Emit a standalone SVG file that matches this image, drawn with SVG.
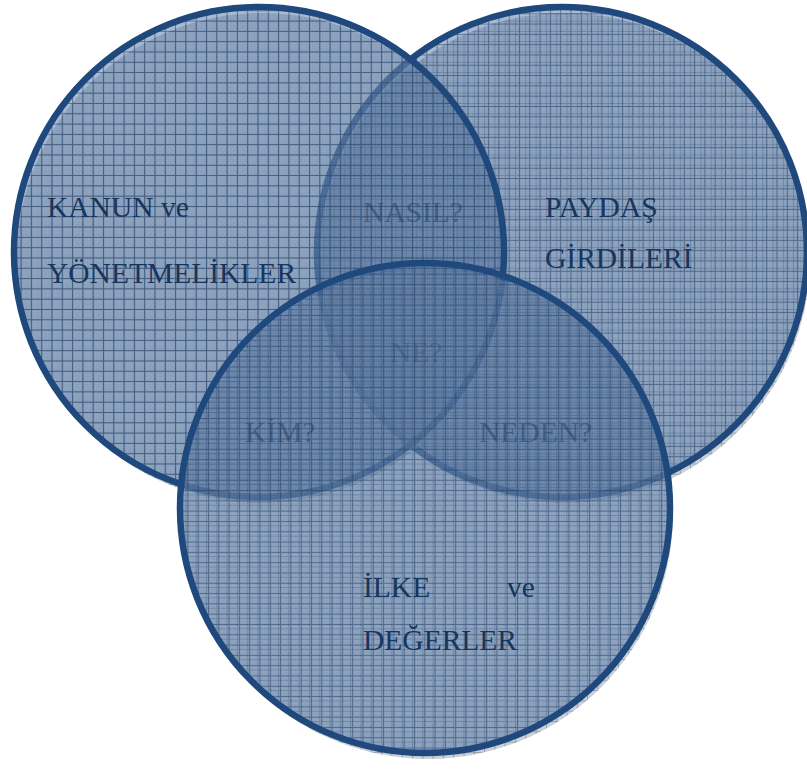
<svg xmlns="http://www.w3.org/2000/svg" width="807" height="770" viewBox="0 0 807 770">
  <defs>
    <pattern id="chk" width="2" height="2" patternUnits="userSpaceOnUse">
      <rect width="1" height="1" fill="#ffffff" opacity="0.22"/>
    </pattern>
    <pattern id="grid" width="10.3" height="10.3" patternUnits="userSpaceOnUse">
      <rect width="10.3" height="10.3" fill="#2b5690" opacity="0.44"/>
      <rect width="10.3" height="10.3" fill="url(#chk)"/>
      <path d="M0 0.5H10.3M0.5 0V10.3" stroke="#1c3a68" stroke-width="1" opacity="0.55"/>
    </pattern>
    <pattern id="grid2" href="#grid" patternTransform="translate(4 3)"/>
    <pattern id="grid3" href="#grid" patternTransform="translate(2 6)"/>
    <pattern id="shgrid" width="10.3" height="10.3" patternUnits="userSpaceOnUse">
      <rect width="10.3" height="10.3" fill="#8a96a6" opacity="0.45"/>
      <path d="M0 0.5H10.3M0.5 0V10.3" stroke="#5a6a80" stroke-width="1" opacity="0.5"/>
    </pattern>
  </defs>
  <style>
    .ring { stroke: #1f497d; stroke-width: 6.5; }
    .shadow { fill: url(#shgrid); stroke: none; }
    .lbl { font-family: "Liberation Serif", "Times New Roman", serif; font-size: 29.5px; fill: #17365d; }
    .faint { opacity: 0.45; }
    .vfaint { opacity: 0.25; }
  </style>
  <rect width="807" height="770" fill="#ffffff"/>

  <g id="circle-paydas">
    <circle class="shadow" cx="565" cy="258" r="245"/>
    <circle class="ring" cx="562" cy="252" r="245" fill="url(#grid2)"/>
  </g>
  <g id="circle-kanun">
    <circle class="shadow" cx="262" cy="258" r="245"/>
    <circle class="ring" cx="259" cy="252" r="245" fill="url(#grid)"/>
  </g>
  <g id="circle-ilke">
    <circle class="shadow" cx="428" cy="514" r="245"/>
    <circle class="ring" cx="425" cy="508" r="245" fill="url(#grid3)"/>
  </g>

  <g id="connectors"></g>

  <g id="labels">
    <text class="lbl" x="47" y="217">KANUN ve</text>
    <text class="lbl" x="47" y="283">YÖNETMELİKLER</text>
    <text class="lbl" x="545" y="217">PAYDAŞ</text>
    <text class="lbl" x="545" y="268">GİRDİLERİ</text>
    <text class="lbl faint" x="363" y="222">NASIL?</text>
    <text class="lbl vfaint" x="390" y="362">NE?</text>
    <text class="lbl faint" x="245" y="442">KİM?</text>
    <text class="lbl faint" x="479" y="442">NEDEN?</text>
    <text class="lbl" x="363" y="597">İLKE</text>
    <text class="lbl" x="507" y="597">ve</text>
    <text class="lbl" x="363" y="650">DEĞERLER</text>
  </g>
</svg>
